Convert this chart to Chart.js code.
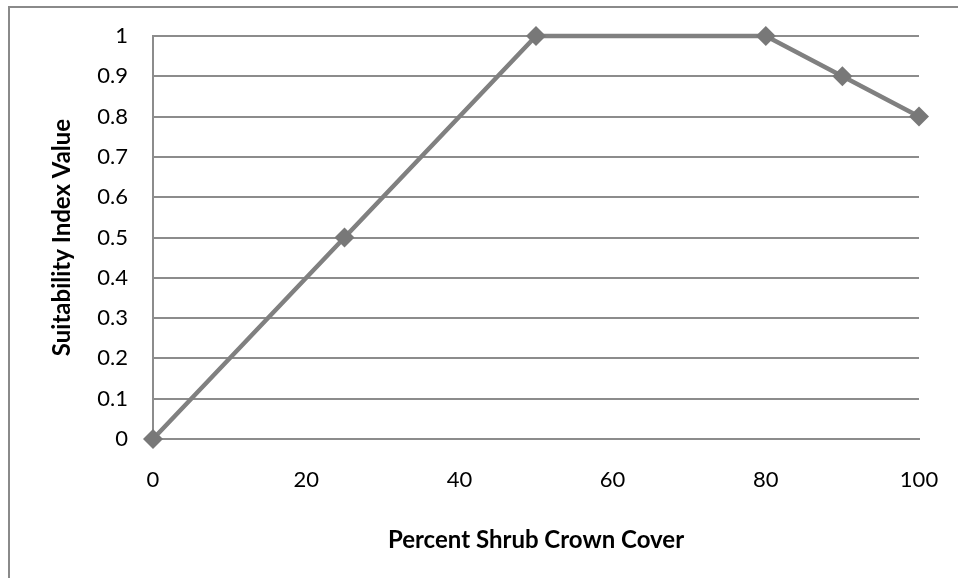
<!DOCTYPE html>
<html>
<head>
<meta charset="utf-8">
<script src="https://cdn.jsdelivr.net/npm/chart.js@4"></script>
<style>
    body { margin: 0; background: #fff; overflow: hidden; }
    #wrap { position: relative; width: 958px; height: 578px; }
    #frame {
        position: absolute; left: 8px; top: 6px; width: 1000px; height: 1000px;
        border-left: 2px solid #8a8a8a; border-top: 2px solid #8a8a8a;
    }
    canvas { position: absolute; left: 0; top: 0; }
</style>
</head>
<body>
<div id="wrap">
    <div id="frame"></div>
    <canvas id="suitChart" width="958" height="578"></canvas>
</div>
<script>
// Percent shrub crown cover vs suitability index
const shrubCover = [0, 25, 50, 80, 90, 100];
const suitability = [0, 0.5, 1, 1, 0.9, 0.8];
const xTicks = [0, 20, 40, 60, 80, 100];

const points = shrubCover.map((x, i) => ({ x: x, y: suitability[i] }));

const tickFont = { family: 'Lato', size: 22 };
const titleFont = { family: 'Lato', size: 24, weight: 'bold' };

const suitChart = new Chart(document.getElementById('suitChart'), {
    type: 'line',
    data: {
        datasets: [{
            data: points,
            borderColor: '#808080',
            borderWidth: 4.5,
            backgroundColor: '#787878',
            pointStyle: 'rectRot',
            pointRadius: 10,
            pointBorderWidth: 0,
            tension: 0,
            clip: false
        }]
    },
    options: {
        responsive: false,
        animation: false,
        layout: { padding: { left: 0, top: 36, right: 39, bottom: 19 } },
        plugins: { legend: { display: false }, tooltip: { enabled: false } },
        scales: {
            x: {
                type: 'linear',
                min: 0,
                max: 100,
                afterBuildTicks: scale => { scale.ticks = xTicks.map(v => ({ value: v })); },
                afterFit: scale => { scale.height = 120; },
                // tick marks are not drawn, tickLength only spaces the labels
                grid: { display: false, drawTicks: true, tickLength: 28 },
                border: { display: true, color: '#8c8c8c', width: 2 },
                ticks: { color: '#000', font: tickFont, padding: 0, maxRotation: 0 },
                title: {
                    display: true,
                    text: 'Percent Shrub Crown Cover',
                    color: '#000',
                    font: titleFont,
                    padding: { top: 0, bottom: 4 }
                }
            },
            y: {
                min: 0,
                max: 1,
                afterFit: scale => { scale.width = 153; },
                grid: {
                    color: '#8c8c8c',
                    lineWidth: 2,
                    drawTicks: true,
                    tickLength: 25,
                    tickColor: 'rgba(0,0,0,0)'
                },
                border: { display: true, color: '#8c8c8c', width: 2 },
                ticks: {
                    stepSize: 0.1,
                    color: '#000',
                    font: tickFont,
                    padding: 0,
                    callback: v => String(Number(v.toFixed(1)))
                },
                title: {
                    display: true,
                    text: 'Suitability Index Value',
                    color: '#000',
                    font: titleFont,
                    padding: { top: 48, bottom: 0 }
                }
            }
        }
    }
});
</script>
</body>
</html>
